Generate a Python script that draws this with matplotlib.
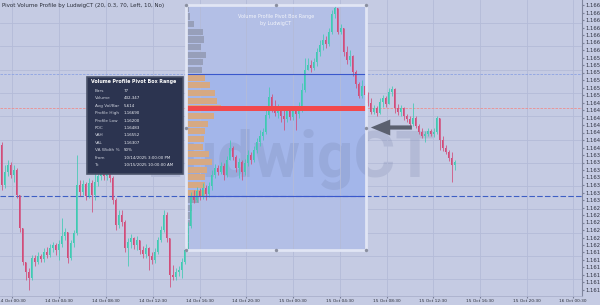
import numpy as np
import matplotlib.pyplot as plt
from matplotlib.patches import Rectangle, FancyBboxPatch
from matplotlib.ticker import FixedLocator, FormatStrFormatter

# OHLC (open = previous close)
first_open = 1.16410
closes = [
    1.16330, 1.16356, 1.16370, 1.16350, 1.16360, 1.16310, 1.16244, 1.16176, 1.16156, 1.16144,
    1.16184, 1.16176, 1.16188, 1.16182, 1.16196, 1.16190, 1.16204, 1.16210, 1.16200, 1.16212,
    1.16228, 1.16236, 1.16184, 1.16214, 1.16234, 1.16330, 1.16316, 1.16332, 1.16308, 1.16334,
    1.16310, 1.16336, 1.16348, 1.16360, 1.16348, 1.16356, 1.16344, 1.16300, 1.16250, 1.16270,
    1.16256, 1.16204, 1.16216, 1.16224, 1.16210, 1.16220, 1.16200, 1.16192, 1.16204, 1.16188,
    1.16180, 1.16196, 1.16220, 1.16240, 1.16270, 1.16224, 1.16150, 1.16146, 1.16156, 1.16160,
    1.16176, 1.16200, 1.16248, 1.16308, 1.16300, 1.16318, 1.16306, 1.16324, 1.16312, 1.16328,
    1.16350, 1.16364, 1.16356, 1.16368, 1.16350, 1.16380, 1.16404, 1.16386, 1.16364, 1.16376,
    1.16356, 1.16374, 1.16390, 1.16380, 1.16400, 1.16416, 1.16428, 1.16436, 1.16470, 1.16506,
    1.16484, 1.16474, 1.16484, 1.16468, 1.16462, 1.16480, 1.16466, 1.16478, 1.16472, 1.16484,
    1.16520, 1.16560, 1.16570, 1.16564, 1.16576, 1.16596, 1.16610, 1.16620, 1.16612, 1.16636,
    1.16672, 1.16684, 1.16636, 1.16644, 1.16596, 1.16580, 1.16588, 1.16556, 1.16532, 1.16508,
    1.16528, 1.16510, 1.16494, 1.16476, 1.16484, 1.16474, 1.16496, 1.16504, 1.16492, 1.16516,
    1.16522, 1.16484, 1.16476, 1.16484, 1.16468, 1.16462, 1.16452, 1.16464, 1.16448, 1.16436,
    1.16428, 1.16432, 1.16438, 1.16432, 1.16436, 1.16464, 1.16420, 1.16404, 1.16396, 1.16384,
    1.16370, 1.16376,
]
highs = [
    1.16416, 1.16370, 1.16380, 1.16376, 1.16370, 1.16364, 1.16310, 1.16244, 1.16176, 1.16164,
    1.16190, 1.16190, 1.16196, 1.16192, 1.16204, 1.16206, 1.16212, 1.16216, 1.16214, 1.16220,
    1.16264, 1.16244, 1.16236, 1.16220, 1.16240, 1.16390, 1.16340, 1.16340, 1.16336, 1.16344,
    1.16340, 1.16360, 1.16364, 1.16380, 1.16370, 1.16368, 1.16364, 1.16348, 1.16304, 1.16280,
    1.16280, 1.16260, 1.16224, 1.16232, 1.16226, 1.16228, 1.16220, 1.16208, 1.16212, 1.16206,
    1.16196, 1.16204, 1.16226, 1.16248, 1.16280, 1.16276, 1.16224, 1.16170, 1.16164, 1.16168,
    1.16184, 1.16208, 1.16256, 1.16316, 1.16320, 1.16326, 1.16324, 1.16334, 1.16330, 1.16336,
    1.16360, 1.16372, 1.16370, 1.16376, 1.16374, 1.16388, 1.16420, 1.16408, 1.16390, 1.16384,
    1.16380, 1.16382, 1.16400, 1.16396, 1.16408, 1.16424, 1.16440, 1.16444, 1.16480, 1.16526,
    1.16512, 1.16500, 1.16492, 1.16488, 1.16484, 1.16488, 1.16484, 1.16488, 1.16484, 1.16496,
    1.16534, 1.16584, 1.16584, 1.16580, 1.16584, 1.16604, 1.16620, 1.16632, 1.16628, 1.16644,
    1.16680, 1.16690, 1.16684, 1.16652, 1.16644, 1.16608, 1.16600, 1.16590, 1.16560, 1.16536,
    1.16540, 1.16532, 1.16516, 1.16504, 1.16490, 1.16488, 1.16504, 1.16510, 1.16508, 1.16524,
    1.16528, 1.16524, 1.16492, 1.16490, 1.16486, 1.16472, 1.16468, 1.16494, 1.16468, 1.16452,
    1.16444, 1.16438, 1.16444, 1.16442, 1.16444, 1.16468, 1.16464, 1.16428, 1.16410, 1.16400,
    1.16396, 1.16380,
]
lows = [
    1.16320, 1.16324, 1.16348, 1.16344, 1.16336, 1.16304, 1.16236, 1.16170, 1.16140, 1.16120,
    1.16140, 1.16168, 1.16172, 1.16176, 1.16176, 1.16184, 1.16186, 1.16196, 1.16190, 1.16180,
    1.16206, 1.16220, 1.16174, 1.16180, 1.16206, 1.16230, 1.16308, 1.16310, 1.16300, 1.16304,
    1.16276, 1.16300, 1.16328, 1.16340, 1.16340, 1.16340, 1.16336, 1.16292, 1.16240, 1.16244,
    1.16248, 1.16196, 1.16168, 1.16204, 1.16202, 1.16200, 1.16192, 1.16184, 1.16184, 1.16160,
    1.16172, 1.16174, 1.16192, 1.16216, 1.16236, 1.16216, 1.16126, 1.16140, 1.16140, 1.16148,
    1.16144, 1.16172, 1.16200, 1.16244, 1.16294, 1.16296, 1.16300, 1.16302, 1.16300, 1.16306,
    1.16320, 1.16344, 1.16350, 1.16352, 1.16340, 1.16346, 1.16380, 1.16380, 1.16356, 1.16344,
    1.16340, 1.16350, 1.16368, 1.16372, 1.16376, 1.16394, 1.16408, 1.16420, 1.16432, 1.16464,
    1.16476, 1.16468, 1.16464, 1.16456, 1.16440, 1.16456, 1.16460, 1.16460, 1.16440, 1.16464,
    1.16476, 1.16516, 1.16564, 1.16556, 1.16560, 1.16568, 1.16588, 1.16600, 1.16604, 1.16608,
    1.16632, 1.16664, 1.16632, 1.16632, 1.16588, 1.16572, 1.16568, 1.16548, 1.16524, 1.16504,
    1.16504, 1.16500, 1.16488, 1.16472, 1.16472, 1.16468, 1.16472, 1.16486, 1.16486, 1.16492,
    1.16508, 1.16474, 1.16470, 1.16468, 1.16460, 1.16456, 1.16446, 1.16448, 1.16444, 1.16432,
    1.16424, 1.16416, 1.16428, 1.16428, 1.16426, 1.16432, 1.16400, 1.16398, 1.16392, 1.16378,
    1.16336, 1.16360,
]

# pivot box and its volume profile (rows top -> bottom)
box_first, box_last = 62, 121
profile_vol = [1760, 2640, 6160, 14080, 14960, 12320, 16720, 14080, 13200,
               15840, 20240, 24640, 26400, 29920, 23760, 18480, 15840, 14960,
               14080, 19360, 22000, 17600, 15840, 15840, 15840,
               10560, 4400, 2640, 2640, 1760, 1760, 2027]
va_rows = (9, 24)
bars_count = 77
range_from = "10/14/2025 3:00:00 PM"
range_to = "10/15/2025 10:00:00 AM"

date_pos = [3.5, 19.2, 34.8, 50.5, 66.2, 81.5, 97.2, 112.8, 128.5, 143.8, 159.5, 175.2, 190.5]
date_labels = ["14 Oct 00:30", "14 Oct 04:30", "14 Oct 08:30", "14 Oct 12:30",
               "14 Oct 16:30", "14 Oct 20:30", "15 Oct 00:30", "15 Oct 04:30",
               "15 Oct 08:30", "15 Oct 12:30", "15 Oct 16:30", "15 Oct 20:30",
               "16 Oct 00:30"]

BG = '#c5cbe3'
UP = '#3fcab2'
DOWN = '#d24c79'

closes = np.array(closes)
opens = np.r_[first_open, closes[:-1]]
highs = np.maximum(np.array(highs), np.maximum(opens, closes))
lows = np.minimum(np.array(lows), np.minimum(opens, closes))
x = np.arange(len(closes))

ph = highs[box_first:box_last + 1].max()
pl = lows[box_first:box_last + 1].min()
n_rows = len(profile_vol)
row_h = (ph - pl) / n_rows
row_top = ph - np.arange(n_rows) * row_h
row_mid = row_top - row_h / 2
poc = row_mid[int(np.argmax(profile_vol))]
vah = row_top[va_rows[0]]
val = row_top[va_rows[1]] - row_h
total_vol = sum(profile_vol)

fig = plt.figure(figsize=(6, 3.05), dpi=100, facecolor=BG)
ax = fig.add_axes([0, 9 / 305, 582 / 600, 296 / 305], facecolor=BG)
ax.set_xlim(-0.5, 193.5)
ax.set_ylim(1.16108, 1.16700)

# grid
ax.xaxis.set_major_locator(FixedLocator(date_pos))
ax.set_xticklabels(date_labels)
ax.xaxis.grid(True, color='#b4bbd8', lw=0.6, zorder=0)
for gy in np.arange(1.16654, 1.16108, -0.000466):
    ax.axhline(gy, color='#b4bbd8', lw=0.6, zorder=0.5)

bl, br = box_first - 0.5, box_last + 0.5
bm, pm = (bl + br) / 2, (ph + pl) / 2

# box fill
ax.add_patch(Rectangle((bl, pl), br - bl, ph - pl, fc='#b3bfe6', ec='none', zorder=1))
ax.add_patch(Rectangle((bl, val), br - bl, vah - val, fc='#a3b6ea', ec='none', zorder=1.1))

# pane watermark
ax.text(0.5, 1 - 177 / 296, 'LudwigCT', transform=ax.transAxes, fontsize=46,
        family='Roboto', weight='bold', color='#6f7aa3', alpha=0.2,
        ha='center', va='baseline', zorder=1.5)

# extended levels
ax.axhline(poc, color='#ee8e8e', lw=0.6, ls=(0, (3, 1.5)), zorder=2)
ax.axhline(vah, color='#8ea3e2', lw=0.6, ls=(0, (3, 1.5)), zorder=2)
ax.axhline(val, color='#3f5fc4', lw=0.8, ls=(0, (5, 2)), zorder=2)

# volume profile
prof_len = np.array(profile_vol) / max(profile_vol) * 11.3
pcol = ['#d6a983' if va_rows[0] <= k <= va_rows[1] else '#979fba' for k in range(n_rows)]
ax.barh(row_mid, prof_len, height=row_h * 0.8, left=bl + 0.4, color=pcol, lw=0, zorder=2.5)

# candles
col = np.where(closes >= opens, UP, DOWN)
ax.vlines(x, lows, highs, colors=col, lw=0.55, zorder=3)
body_lo = np.minimum(opens, closes)
body_h = np.maximum(np.abs(closes - opens), 0.00002)
ax.bar(x, body_h, bottom=body_lo, width=0.62, color=col, lw=0, zorder=3)

ax.hlines([vah, val], bl, br, color='#3a58cc', lw=0.8, zorder=3.5)
ax.hlines(poc, bl, br, color='#f2494c', lw=3.6, zorder=4)
ax.add_patch(Rectangle((bl, pl), br - bl, ph - pl, fill=False, ec='#e1e5f4', lw=2, zorder=4.5))
ax.scatter([bl, bm, br, bl, br, bl, bm, br], [ph, ph, ph, pm, pm, pl, pl, pl],
           s=6, c='#8a8fa0', lw=0, zorder=5)

ax.annotate('Volume Profile Pivot Box Range', xy=(bm, ph), xytext=(0, -8.5),
            textcoords='offset points', ha='center', va='center', fontsize=3.5,
            color='#f2f4fa', zorder=5)
ax.annotate('by LudwigCT', xy=(bm, ph), xytext=(0, -13),
            textcoords='offset points', ha='center', va='center', fontsize=3.5,
            color='#f2f4fa', zorder=5)

ax.annotate('', xy=(br + 1.6, pm), xytext=(br + 15.3, pm),
            arrowprops=dict(arrowstyle='simple,head_length=1.4,head_width=1.15,tail_width=0.3',
                            fc='#5b606f', ec='none', mutation_scale=10, shrinkA=0, shrinkB=0),
            zorder=5)

# info panel
ax.add_patch(FancyBboxPatch((87 / 582, 1 - 174 / 296), 96 / 582, 97 / 296,
                            boxstyle='square,pad=0', transform=ax.transAxes,
                            fc='#2c3450', ec='#4b536a', lw=1.2, zorder=6))
ax.text(91 / 582, 1 - 82 / 296, 'Volume Profile Pivot Box Range', transform=ax.transAxes,
        fontsize=3.4, weight='bold', color='white', va='center', zorder=7)
rows = [
    ('Bars', f'{bars_count}'),
    ('Volume', f'{total_vol:,}'),
    ('Avg Vol/Bar', f'{total_vol // bars_count:,}'),
    ('Profile High', f'{ph:.5f}'),
    ('Profile Low', f'{pl:.5f}'),
    ('POC', f'{poc:.5f}'),
    ('VAH', f'{vah:.5f}'),
    ('VAL', f'{val:.5f}'),
    ('VA Width %', f'{(vah - val) / (ph - pl) * 100:.0f}%'),
    ('From', range_from),
    ('To', range_to),
]
for k, (lab, v) in enumerate(rows):
    yy = 1 - (91 + 7.4 * k) / 296
    ax.text(95 / 582, yy, lab, transform=ax.transAxes, fontsize=3.1, color='#c9cdd9',
            va='center', zorder=7)
    ax.text(124 / 582, yy, v, transform=ax.transAxes, fontsize=2.9, color='#eceef4',
            va='center', zorder=7)

ax.text(2 / 582, 1 - 6 / 296, 'Pivot Volume Profile by LudwigCT (20, 0.3, 70, Left, 10, No)',
        transform=ax.transAxes, fontsize=4, color='#2a2e39', va='center', zorder=7)

# axes
ax.yaxis.tick_right()
ax.yaxis.set_major_locator(FixedLocator(np.round(np.arange(1.16690, 1.16115, -0.00015), 5)))
ax.yaxis.set_major_formatter(FormatStrFormatter('%.5f'))
ax.tick_params(axis='y', labelsize=3.8, pad=1, length=1.5, color='#7a8098', labelcolor='#2e3140')
ax.tick_params(axis='x', labelsize=3.1, pad=0.8, length=1.5, color='#7a8098', labelcolor='#2a2e39')
for s in ['left', 'top']:
    ax.spines[s].set_visible(False)
ax.spines['right'].set_color('#80869e')
ax.spines['right'].set_linewidth(0.8)
ax.spines['bottom'].set_color('#aab0cc')
ax.spines['bottom'].set_linewidth(0.6)

fig.savefig('out.png', dpi=100, facecolor=BG)
